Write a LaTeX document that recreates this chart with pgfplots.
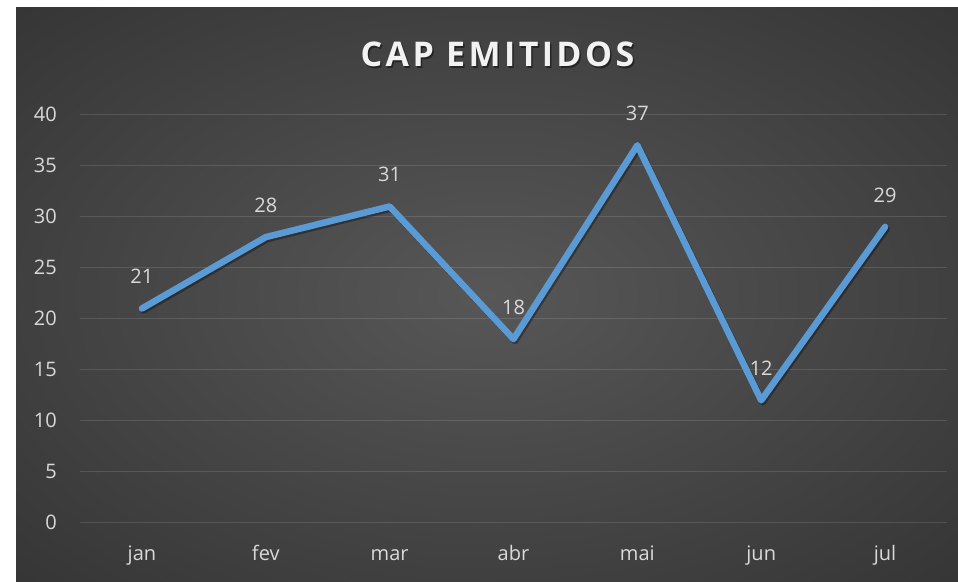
\documentclass[border=0pt]{standalone}
\usepackage{pgfplots}
\pgfplotsset{compat=1.18}
\usepackage{fontspec}
\setmainfont{Open Sans}
\newfontfamily\titlefont[LetterSpace=10]{Open Sans}
\definecolor{bgin}{HTML}{575757}
\definecolor{bgout}{HTML}{282828}
\definecolor{lineblue}{HTML}{5B9BD5}
\definecolor{lbl}{HTML}{D9D9D9}
\pgfdeclareradialshading{bgshade}{\pgfpoint{0bp}{0bp}}{color(0bp)=(bgin); color(50bp)=(bgout)}
\begin{document}
\begin{tikzpicture}[x=1pt,y=1pt]
\path[use as bounding box, fill=white] (0,0) rectangle (958,581);
\shade[shading=bgshade] (16,0) rectangle (958,573);
\node[anchor=base, text=black, opacity=0.45] at (499,512.8) {\titlefont\bfseries\fontsize{34}{40}\selectfont CAP EMITIDOS};
\node[anchor=base, text=white!95!black] at (497.5,514.3) {\titlefont\bfseries\fontsize{34}{40}\selectfont CAP EMITIDOS};
\begin{axis}[at={(80pt,58.3pt)}, anchor=south west, scale only axis,
  width=867pt, height=408pt,
  xmin=-0.5, xmax=6.5, ymin=0, ymax=40,
  ytick={0,5,...,40}, xtick={0,...,6},
  xticklabels={jan,fev,mar,abr,mai,jun,jul},
  axis line style={draw=none}, major tick length=0pt,
  ymajorgrids, grid style={white, opacity=0.12, line width=1pt},
  /pgf/number format/assume math mode=true,
  tick label style={font=\fontsize{20}{24}\selectfont, text=lbl, inner sep=0pt},
  yticklabel style={anchor=east, xshift=-23pt},
  xticklabel style={anchor=base, yshift=-38pt},
  every node near coord/.append style={font=\fontsize{20}{24}\selectfont, text=lbl, anchor=center, yshift=32pt},
  clip=false]
\addplot[black, opacity=0.35, line width=6.5pt, line join=round, line cap=round, shift={(1.5pt,-2pt)}, forget plot] coordinates {(0,21) (1,28) (2,31) (3,18) (4,37) (5,12) (6,29)};
\addplot[lineblue, line width=6.5pt, line join=round, line cap=round, nodes near coords] coordinates {(0,21) (1,28) (2,31) (3,18) (4,37) (5,12) (6,29)};
\end{axis}
\end{tikzpicture}
\end{document}
